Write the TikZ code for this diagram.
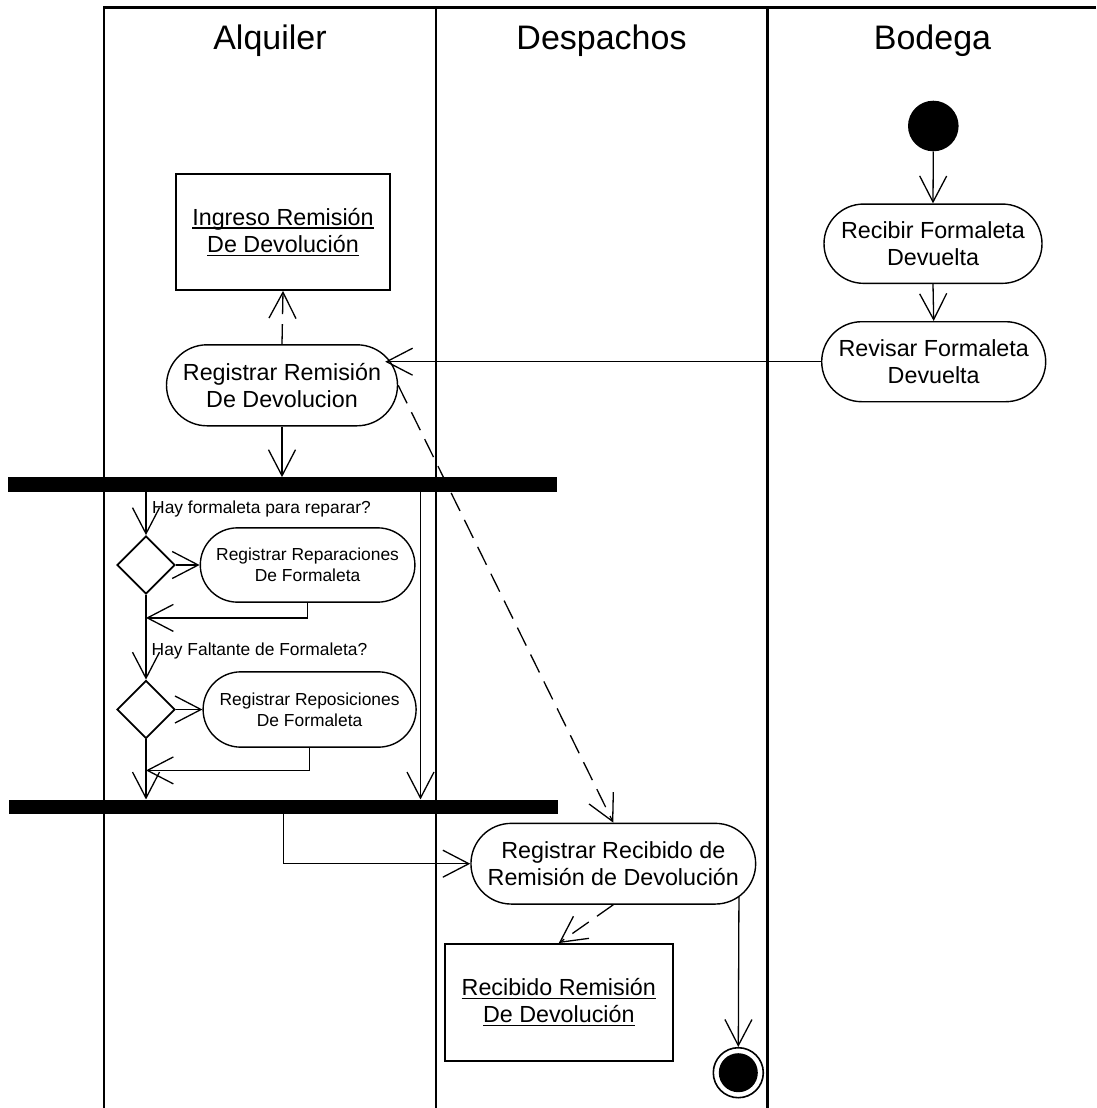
\documentclass[tikz,border=0pt]{standalone}
\usepackage{fontspec}
\setmainfont{Liberation Sans}
\usetikzlibrary{arrows.meta,shapes.geometric,shapes.misc,calc}

\newcommand{\lanefont}{\fontsize{34}{40}\selectfont}
\newcommand{\actfont}{\fontsize{23.3}{27.5}\selectfont}
\newcommand{\smallfont}{\fontsize{17.4}{20.7}\selectfont}
% underline at a fixed depth below the baseline
\newcommand{\undertext}[1]{\setbox0\hbox{#1}\rlap{\vrule height -2.2pt depth 3.5pt width \wd0}\box0}

\tikzset{
  lane/.style={line width=2.2pt},
  lanetitle/.style={inner sep=0pt, font=\lanefont, anchor=base},
  act/.style={draw, rounded rectangle, line width=1.4pt, inner sep=0pt,
    align=center, font=\actfont},
  sact/.style={act, font=\smallfont},
  obj/.style={draw, rectangle, line width=1.8pt, inner sep=0pt,
    align=center, font=\actfont},
  syncbar/.style={rectangle, fill=black, inner sep=0pt,
    minimum width=548.7pt, minimum height=14.5pt},
  decision/.style={draw, diamond, line width=1.8pt, minimum size=58pt, inner sep=0pt},
  guard/.style={inner sep=0pt, font=\smallfont, anchor=base west},
  initial/.style={circle, fill=black, minimum size=50.6pt, inner sep=0pt},
  final/.style={circle, draw, line width=1.6pt, minimum size=50pt, inner sep=0pt},
  arr/.style={line width=1.3pt, -{Straight Barb[length=26pt,width=27pt,line width=1.3pt]}},
  dep/.style={arr, dash pattern=on 20pt off 10pt},
}

\begin{document}
\begin{tikzpicture}[x=1pt, y=-1pt]
\useasboundingbox (0,0) rectangle (1096,1108);

% swimlanes
\draw[lane] (103,7.5) -- (1096,7.5);
\draw[lane] (104,7.5) -- (104,1108);
\draw[lane] (436,7.5) -- (436,1108);
\draw[lane] (767.5,7.5) -- (767.5,1108);
\node[lanetitle] (tA) at (270,50) {Alquiler};
\node[lanetitle] (tD) at (601.5,50) {Despachos};
\node[lanetitle] (tB) at (932.5,50) {Bodega};

% Bodega
\node[initial] (ini) at (933.3,126) {};
\node[act, minimum width=218pt, minimum height=79.3pt] (rcb) at (933,243.7) {Recibir Formaleta\\Devuelta};
\node[act, minimum width=224pt, minimum height=80pt] (rev) at (933.7,361.7) {Revisar Formaleta\\Devuelta};

% Alquiler
\node[obj, minimum width=214pt, minimum height=116pt] (ing) at (283,232) {\undertext{Ingreso Remisión}\\\undertext{De Devolución}};
\node[act, minimum width=231pt, minimum height=81pt] (rr) at (282,385.3) {Registrar Remisión\\De Devolucion};
\node[syncbar] (bar1) at (282.3,484.6) {};
\node[decision] (d1) at (146,565) {};
\node[sact, minimum width=214.6pt, minimum height=74.3pt] (rp) at (307.6,565) {Registrar Reparaciones\\De Formaleta};
\node[guard] (q1) at (152,513.3) {Hay formaleta para reparar?};
\node[decision] (d2) at (146,709.5) {};
\node[sact, minimum width=213pt, minimum height=75.3pt] (rs) at (309.6,709.5) {Registrar Reposiciones\\De Formaleta};
\node[guard] (q2) at (151.5,655) {Hay Faltante de Formaleta?};
\node[syncbar] (bar2) at (283.3,806.9) {};

% Despachos
\node[act, minimum width=284.7pt, minimum height=80.7pt] (rec) at (613.3,863.7) {Registrar Recibido de\\Remisión de Devolución};
\node[obj, minimum width=227.7pt, minimum height=116.7pt] (rcv) at (558.8,1002.3) {\undertext{Recibido Remisión}\\\undertext{De Devolución}};
\node[final] (fin) at (738.3,1072.7) {};
\fill (fin.center) circle (19.5pt);

% flows
\draw[arr] (ini.south) -- (rcb.north);
\draw[arr] (rcb.south) -- (rev.north);
\coordinate (rrin) at ($(rr.east)+(-13,0)$);
\draw[arr] (rev.west) -- (rev.west -| rrin);
\draw[dep] (rr.north) -- (ing.south);
\draw[arr] (rr.south) -- (rr.south |- bar1.north);
\draw[dep] (rr.east) -- (rec.north);

\draw[arr] (bar1.south -| d1.north) -- (d1.north);
\draw[arr] (d1.east) -- (d1.east -| rp.west);
\coordinate (m1) at ($(d1.south)+(0,23)$);
\draw[arr] (rp.south) |- (m1);
\draw[arr] (d1.south) -- (d2.north);
\draw[arr] (d2.east) -- (d2.east -| rs.west);
\coordinate (m2) at ($(d2.south)+(0,31)$);
\draw[arr] (rs.south) |- (m2);
\draw[arr] (d2.south) -- (d2.south |- bar2.north);
\coordinate (xr) at (420.5,0);
\draw[arr] (bar1.south -| xr) -- (bar2.north -| xr);

\draw[arr] (bar2.south) |- (rec.west);
\draw[dep] (rec.south) -- (rcv.north);
\coordinate (recout) at ($(rec.east)+(-17.4,33.2)$);
\draw[arr] (recout) -- (fin.north);
\end{tikzpicture}
\end{document}
